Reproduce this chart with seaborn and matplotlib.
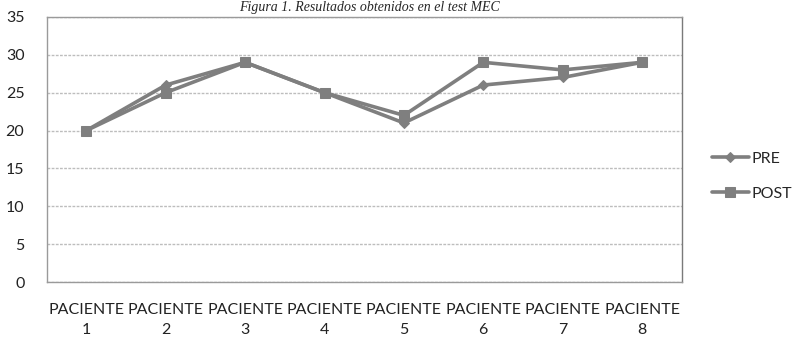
import numpy as np
import pandas as pd
import matplotlib
matplotlib.use("Agg")
import matplotlib.pyplot as plt
import seaborn as sns

pacientes = ["PACIENTE\n1", "PACIENTE\n2", "PACIENTE\n3", "PACIENTE\n4",
             "PACIENTE\n5", "PACIENTE\n6", "PACIENTE\n7", "PACIENTE\n8"]
pre = [20, 26, 29, 25, 21, 26, 27, 29]
post = [20, 25, 29, 25, 22, 29, 28, 29]
yticks = [0, 5, 10, 15, 20, 25, 30, 35]

df = pd.DataFrame({
    "Paciente": pacientes * 2,
    "Valor": pre + post,
    "Serie": ["PRE"] * len(pre) + ["POST"] * len(post),
})

sns.set_style("white")
plt.rcParams['font.family'] = ['Lato', 'DejaVu Sans']

fig, ax = plt.subplots(figsize=(8.04, 3.44), dpi=100)
fig.subplots_adjust(left=0.058, right=0.848, top=0.951, bottom=0.18)

gris = "#7f7f7f"
sns.lineplot(data=df, x="Paciente", y="Valor", hue="Serie", style="Serie",
             palette={"PRE": gris, "POST": gris},
             markers={"PRE": "D", "POST": "s"}, dashes=False,
             linewidth=2.6, ax=ax, sort=False)
for ln in ax.lines:
    if ln.get_marker() == "D":
        ln.set_markersize(5)
    else:
        ln.set_markersize(7.5)
    ln.set_markeredgecolor(gris)

ax.set_ylim(0, 35)
ax.set_xlim(-0.5, 7.5)
ax.set_yticks(yticks)
ax.yaxis.grid(True, color="#bdbdbd", linewidth=1, linestyle=(0, (2, 1)))
ax.set_axisbelow(True)
ax.set_xlabel("")
ax.set_ylabel("")
for s in ax.spines.values():
    s.set_color("#9a9a9a")
    s.set_linewidth(1)
ax.spines["right"].set_color("#7a7a7a")
ax.tick_params(axis="both", length=0, colors="#222222")
ax.tick_params(axis="y", pad=16, labelsize=11.5)
ax.tick_params(axis="x", pad=15, labelsize=11.5)
for t in ax.get_xticklabels():
    t.set_linespacing(1.55)

leg = ax.legend(loc="center left", bbox_to_anchor=(1.025, 0.40), frameon=False,
                fontsize=11.5, handlelength=2.3, labelspacing=1.3,
                handletextpad=0.15)
for h in leg.legend_handles:
    h.set_linewidth(2.6)

fig.text(0.46, 0.978, "Figura 1. Resultados obtenidos en el test MEC",
         ha="center", va="center", fontsize=10, family="Liberation Serif",
         style="italic")

fig.savefig("out.png", dpi=100)
